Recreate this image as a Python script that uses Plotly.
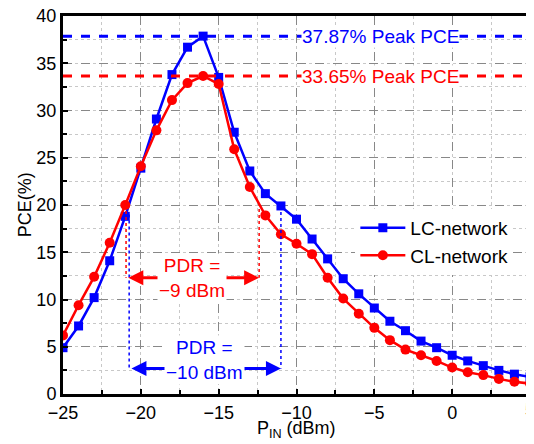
import plotly.graph_objects as go

p_in = [-25, -24, -23, -22, -21, -20, -19, -18, -17, -16, -15, -14, -13, -12, -11, -10,
        -9, -8, -7, -6, -5, -4, -3, -2, -1, 0, 1, 2, 3, 4, 5]
lc_pce = [4.9, 7.2, 10.2, 14.1, 18.8, 23.9, 29.1, 33.8, 36.7, 37.87, 33.5, 27.7, 23.6, 21.2, 19.9, 18.5,
          16.4, 14.3, 12.2, 10.6, 9.1, 7.7, 6.7, 5.6, 4.9, 4.1, 3.5, 3.0, 2.5, 2.1, 1.8]
cl_pce = [6.2, 9.4, 12.4, 16.0, 20.0, 24.1, 27.9, 31.1, 32.9, 33.65, 32.8, 25.9, 21.9, 18.9, 16.9, 15.9,
          14.8, 12.3, 10.1, 8.5, 7.0, 5.7, 4.7, 4.1, 3.5, 2.8, 2.3, 2.0, 1.6, 1.3, 1.1]
peak_lc = 37.87
peak_cl = 33.65
pdr_cl = [-20.95, -12.4]
pdr_lc = [-20.75, -11.0]
x_ticks = [-25, -20, -15, -10, -5, 0, 5]
y_ticks = [0, 5, 10, 15, 20, 25, 30, 35, 40]

BLUE = "#0000ff"
RED = "#ff0000"
FONT = "Liberation Sans, Arial"

def tick_label(v):
    return ("\u2212" + str(-v)) if v < 0 else str(v)

fig = go.Figure()
fig.add_trace(go.Scatter(x=p_in, y=lc_pce, name="LC-network", mode="lines+markers",
                         line=dict(color=BLUE, width=2.5),
                         marker=dict(symbol="square", size=9, color=BLUE), cliponaxis=True))
fig.add_trace(go.Scatter(x=p_in, y=cl_pce, name="CL-network", mode="lines+markers",
                         line=dict(color=RED, width=2.5),
                         marker=dict(symbol="circle", size=10, color=RED), cliponaxis=True))

shapes = []
shapes.append(dict(type="line", xref="paper", x0=0, x1=1, yref="y", y0=peak_lc, y1=peak_lc,
                   line=dict(color=BLUE, width=3, dash="dash")))
shapes.append(dict(type="line", xref="paper", x0=0, x1=1, yref="y", y0=peak_cl, y1=peak_cl,
                   line=dict(color=RED, width=3, dash="dash")))
shapes.append(dict(type="line", x0=pdr_cl[0], x1=pdr_cl[0], y0=20.0, y1=12.3,
                   line=dict(color=RED, width=1.5, dash="dot")))
shapes.append(dict(type="line", x0=pdr_cl[1], x1=pdr_cl[1], y0=20.2, y1=12.3,
                   line=dict(color=RED, width=1.5, dash="dot")))
shapes.append(dict(type="line", x0=pdr_lc[0], x1=pdr_lc[0], y0=19.0, y1=2.7,
                   line=dict(color=BLUE, width=1.5, dash="dot")))
shapes.append(dict(type="line", x0=pdr_lc[1], x1=pdr_lc[1], y0=19.9, y1=2.7,
                   line=dict(color=BLUE, width=1.5, dash="dot")))

annotations = [
    dict(x=-4.6, y=peak_lc, text="37.87% Peak PCE", showarrow=False, bgcolor="white",
         font=dict(color=BLUE, size=19, family=FONT), borderpad=0),
    dict(x=-4.6, y=peak_cl, text="33.65% Peak PCE", showarrow=False, bgcolor="white",
         font=dict(color=RED, size=19, family=FONT), borderpad=0),
    dict(x=pdr_cl[1], y=12.3, ax=pdr_cl[0] + 0.05, ay=12.3, axref="x", ayref="y", xref="x", yref="y",
         text="", showarrow=True, arrowhead=2, startarrowhead=2, arrowside="end+start",
         arrowwidth=3, arrowsize=1, arrowcolor=RED),
    dict(x=-16.7, y=12.3, text="PDR =<br>\u22129 dBm", showarrow=False, bgcolor="white",
         font=dict(color=RED, size=19, family=FONT), borderpad=1),
    dict(x=pdr_lc[1], y=2.7, ax=pdr_lc[0] + 0.05, ay=2.7, axref="x", ayref="y", xref="x", yref="y",
         text="", showarrow=True, arrowhead=2, startarrowhead=2, arrowside="end+start",
         arrowwidth=3, arrowsize=1, arrowcolor=BLUE),
    dict(x=-15.9, y=3.6, text="PDR =<br>\u221210 dBm", showarrow=False, bgcolor="white",
         font=dict(color=BLUE, size=19, family=FONT), borderpad=1),
    dict(xref="paper", yref="paper", x=0.5, y=-0.093, text="P<sub>IN</sub> (dBm)", showarrow=False,
         font=dict(size=18, family=FONT, color="black"), yanchor="middle"),
    dict(xref="paper", yref="paper", x=-0.081, y=0.5, text="PCE(%)", showarrow=False, textangle=-90,
         font=dict(size=18, family=FONT, color="black"), xanchor="center"),
    # last x tick label sits on the page edge (partly cut in the reference)
    dict(x=x_ticks[-1], y=0, xref="x", yref="y", yanchor="top", yshift=-4, text=tick_label(x_ticks[-1]),
         showarrow=False, font=dict(size=18, family=FONT, color="black")),
]

axis_common = dict(showline=True, linecolor="black", linewidth=3, mirror=True,
                   ticks="inside", ticklen=5, tickcolor="black", tickwidth=1.5,
                   showgrid=True, gridcolor="#888888", griddash="dash", gridwidth=1,
                   zeroline=False, automargin=False, ticklabeloverflow="allow",
                   tickfont=dict(size=18, family=FONT, color="black"))

# The page body adds an 8 px offset; size the figure so the plot area lands where the reference has it.
fig.update_layout(
    width=526, height=436,
    margin=dict(l=55, r=4, t=8, b=50),
    paper_bgcolor="white", plot_bgcolor="white",
    showlegend=True,
    legend=dict(x=0.626, y=0.49, xanchor="left", yanchor="top", bgcolor="white",
                font=dict(size=19, family=FONT, color="black"),
                itemwidth=45, tracegroupgap=0),
    shapes=shapes, annotations=annotations,
    xaxis=dict(range=[-25, 5], tickvals=x_ticks[:-1],
               ticktext=[tick_label(v) for v in x_ticks[:-1]],
               minor=dict(dtick=2.5, showgrid=True, gridcolor="#c8c8c8", griddash="dot",
                          ticks="inside", ticklen=4, tickcolor="black"),
               **axis_common),
    yaxis=dict(range=[0, 40], tickvals=y_ticks,
               minor=dict(dtick=2.5, showgrid=True, gridcolor="#c8c8c8", griddash="dot",
                          ticks="inside", ticklen=4, tickcolor="black"),
               **axis_common),
)

fig.write_html("out.html")
